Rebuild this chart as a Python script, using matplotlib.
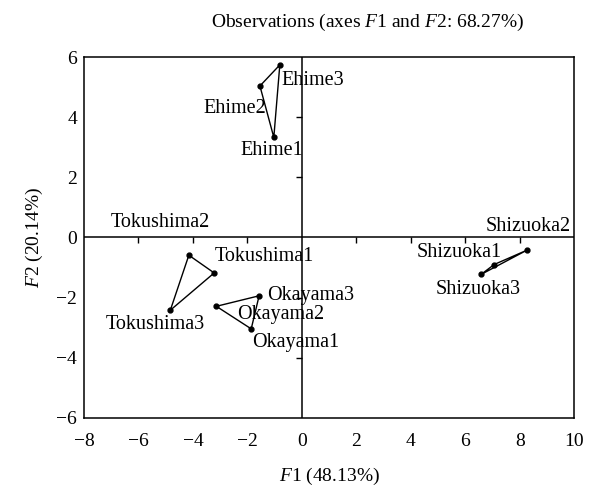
import matplotlib
matplotlib.use("Agg")
import matplotlib.pyplot as plt
from matplotlib.markers import TICKDOWN, TICKLEFT

plt.rcParams['font.family'] = 'Liberation Serif'
plt.rcParams['mathtext.fontset'] = 'custom'
plt.rcParams['mathtext.rm'] = 'Liberation Serif'
plt.rcParams['mathtext.it'] = 'Liberation Serif:italic'

# observation scores on F1 / F2, grouped by prefecture
groups = ['Ehime', 'Tokushima', 'Okayama', 'Shizuoka']
f1 = {
    'Ehime': [-1.03, -1.54, -0.81],
    'Tokushima': [-3.22, -4.15, -4.83],
    'Okayama': [-1.86, -3.14, -1.57],
    'Shizuoka': [7.06, 8.27, 6.58],
}
f2 = {
    'Ehime': [3.33, 5.04, 5.74],
    'Tokushima': [-1.18, -0.59, -2.42],
    'Okayama': [-3.04, -2.29, -1.94],
    'Shizuoka': [-0.90, -0.42, -1.23],
}

# label text and where it sits (left edge x, centre y)
labels = ['Ehime1', 'Ehime2', 'Ehime3', 'Tokushima1', 'Tokushima2', 'Tokushima3',
          'Okayama1', 'Okayama2', 'Okayama3', 'Shizuoka1', 'Shizuoka2', 'Shizuoka3']
label_x = [-2.26, -3.62, -0.74, -3.19, -7.01, -7.22, -1.83, -2.38, -1.27, 4.22, 6.75, 4.90]
label_y = [2.90, 4.30, 5.22, -0.62, 0.50, -2.90, -3.51, -2.57, -1.93, -0.51, 0.38, -1.73]

xticks = list(range(-8, 11, 2))
yticks = list(range(-6, 7, 2))

fig = plt.figure(figsize=(6, 5.01), dpi=100)
ax = fig.add_axes([0.14, 0.166, 0.817, 0.72])

for g in groups:
    xs = f1[g] + f1[g][:1]
    ys = f2[g] + f2[g][:1]
    ax.plot(xs, ys, color='black', lw=1.0, zorder=3)
    ax.plot(f1[g], f2[g], 'o', color='black', ms=3.5, zorder=4)

for t, x, y in zip(labels, label_x, label_y):
    ax.text(x, y, t, fontsize=14.5, ha='left', va='center')

ax.axhline(0, color='black', lw=1.1)
ax.axvline(0, color='black', lw=1.1)
inner_x = [t for t in xticks if t not in (-8, 0, 10)]
inner_y = [t for t in yticks if t not in (-6, 0, 6)]
ax.plot(inner_x, [0] * len(inner_x), ls='none', marker=TICKDOWN, ms=4, mew=1, color='black')
ax.plot([0] * len(inner_y), inner_y, ls='none', marker=TICKLEFT, ms=4, mew=1, color='black')

ax.set_xlim(-8, 10)
ax.set_ylim(-6, 6)
ax.set_xticks(xticks)
ax.set_yticks(yticks)
ax.set_xticklabels([str(t).replace('-', '\u2212') for t in xticks])
ax.set_yticklabels([str(t).replace('-', '\u2212') for t in yticks])
ax.tick_params(length=0, labelsize=14)
ax.tick_params(axis='x', pad=11)
ax.tick_params(axis='y', pad=5)
for s in ax.spines.values():
    s.set_linewidth(1.1)

ax.set_xlabel('$F$1 (48.13%)', fontsize=14, labelpad=11)
ax.set_ylabel('$F$2 (20.14%)', fontsize=14, labelpad=8)
fig.text(0.612, 0.955, 'Observations (axes $F$1 and $F$2: 68.27%)', fontsize=14,
         ha='center', va='center')

fig.savefig('out.png', dpi=100)
